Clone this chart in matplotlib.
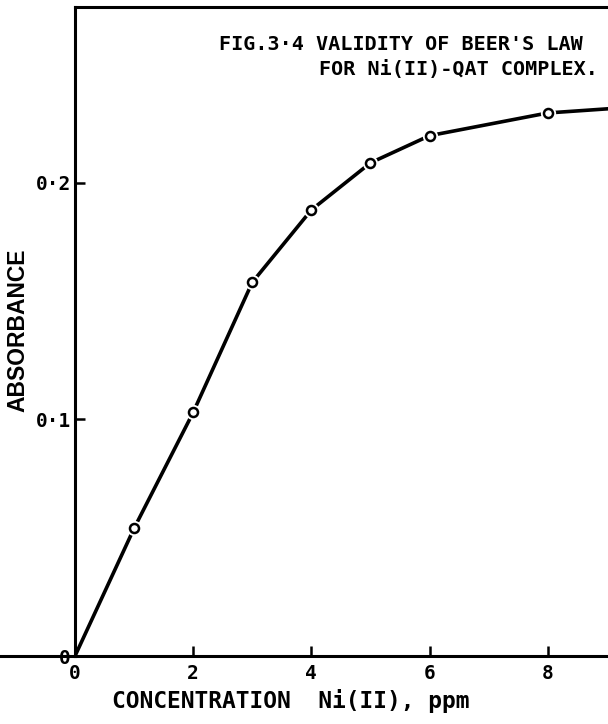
import matplotlib
matplotlib.use("Agg")
import matplotlib.pyplot as plt

# data
conc = [1, 2, 3, 4, 5, 6, 8]
absorb = [0.054, 0.103, 0.158, 0.1886, 0.2085, 0.220, 0.2296]

# the drawn curve starts at the origin and runs on past the last point
line_x = [0] + conc + [9.1]
line_y = [0.0] + absorb + [0.2315]

xticks = [0, 2, 4, 6, 8]
yticks = [0, 0.1, 0.2]
ytick_labels = ["0", "0·1", "0·2"]

title1 = "FIG.3·4 VALIDITY OF BEER'S LAW"
title2 = "FOR Ni(II)-QAT COMPLEX."

W, H = 608, 724
fig = plt.figure(figsize=(W / 100, H / 100), dpi=100)
ax = fig.add_axes([75 / W, (H - 656) / H, 1 - 75 / W, (656 - 7) / H])

mono = "DejaVu Sans Mono"

ax.plot(line_x, line_y, color="black", lw=2.6, solid_capstyle="round",
        solid_joinstyle="round", zorder=2)
# white halo so the line breaks round each circle, then the circle itself
ax.plot(conc, absorb, "o", ms=11, mfc="white", mec="white", mew=0, zorder=3)
ax.plot(conc, absorb, "o", ms=6.5, mfc="white", mec="black", mew=1.8, zorder=4)

ax.set_xlim(0, 9.02)
ax.set_ylim(0, 0.2744)

ax.spines["right"].set_visible(False)
for s in ["left", "bottom", "top"]:
    ax.spines[s].set_linewidth(2.2)

# base line continues left of the y axis
ax.plot([-1.3, 0], [0, 0], color="black", lw=2.2, clip_on=False)

ax.set_xticks(xticks)
ax.set_xticklabels([str(t) for t in xticks], family=mono, fontsize=14, fontweight="bold")
ax.set_yticks(yticks)
ax.set_yticklabels(ytick_labels, family=mono, fontsize=14, fontweight="bold")
ax.tick_params(direction="in", length=7, width=1.8, top=False, right=False)
ax.tick_params(axis="x", pad=6)
ax.tick_params(axis="y", pad=3)

fig.text(112 / W, 1 - 701 / H, "CONCENTRATION  Ni(II), ppm", ha="left", va="center",
         family=mono, fontsize=16.5, fontweight="bold")
fig.text(18 / W, 1 - 330 / H, "ABSORBANCE", rotation=90, ha="center", va="center",
         family="Liberation Sans", fontweight="bold", fontsize=16.5)

fig.text(583 / W, 1 - 45 / H, title1, ha="right", va="center", family=mono,
         fontsize=14.5, fontweight="bold")
fig.text(598 / W, 1 - 70 / H, title2, ha="right", va="center", family=mono,
         fontsize=14.5, fontweight="bold")

fig.savefig("out.png", dpi=100)
